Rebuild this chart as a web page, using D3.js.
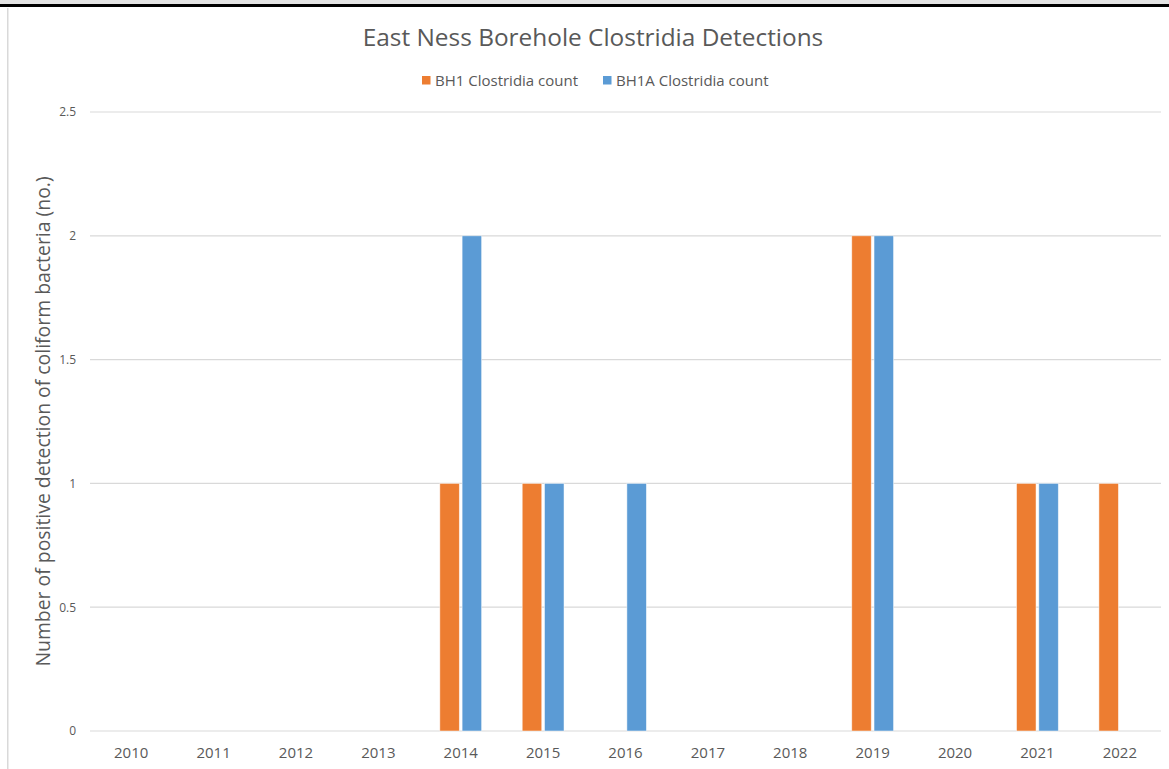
<!DOCTYPE html>
<html>
<head>
<meta charset="utf-8">
<script src="https://cdn.jsdelivr.net/npm/d3@7"></script>
<style>
  html, body { margin: 0; padding: 0; background: #fff; }
  svg { display: block; }
  text { font-family: "Open Sans", "Noto Sans", sans-serif; fill: #595959; }
</style>
</head>
<body>
<script>
// Yearly Clostridia detections at the two East Ness boreholes
const years = ["2010","2011","2012","2013","2014","2015","2016","2017","2018","2019","2020","2021","2022"];
const bh1Counts  = [0, 0, 0, 0, 1, 1, 0, 0, 0, 2, 0, 1, 1];
const bh1aCounts = [0, 0, 0, 0, 2, 1, 1, 0, 0, 2, 0, 1, 0];
const seriesNames = ["BH1 Clostridia count", "BH1A Clostridia count"];
const seriesColors = ["#ED7D31", "#5B9BD5"];
const yTicks = [0, 0.5, 1, 1.5, 2, 2.5];

const W = 1169, H = 769;
const svg = d3.select("body").append("svg").attr("width", W).attr("height", H);

// window frame: grey band, dark rule, left edge
svg.append("rect").attr("x", 0).attr("y", 0).attr("width", W).attr("height", 4).attr("fill", "#e3e3e3");
svg.append("rect").attr("x", 0).attr("y", 4).attr("width", W).attr("height", 3).attr("fill", "#000");
svg.append("rect").attr("x", 7).attr("y", 8).attr("width", 1.5).attr("height", H - 8).attr("fill", "#d9d9d9");

const plot = { left: 90, right: 1161, top: 112, bottom: 731 };

const x = d3.scaleBand().domain(years).range([plot.left, plot.right]);
const y = d3.scaleLinear().domain([0, 2.5]).range([plot.bottom, plot.top]);

// horizontal gridlines
svg.append("g").selectAll("line").data(yTicks).join("line")
  .attr("x1", plot.left).attr("x2", plot.right)
  .attr("y1", d => y(d)).attr("y2", d => y(d))
  .attr("stroke", "#d9d9d9").attr("stroke-width", 1.2);

// y axis tick labels
const yAxis = d3.axisLeft(y).tickValues(yTicks).tickSize(0).tickPadding(0)
  .tickFormat(d => d3.format("")(d));
const gy = svg.append("g").attr("transform", `translate(${plot.left - 14},0)`).call(yAxis);
gy.select(".domain").remove();
gy.selectAll("text").attr("font-size", 12).attr("fill", "#595959")
  .style("font-family", '"Open Sans", sans-serif');

// x axis labels
const xAxis = d3.axisBottom(x).tickSize(0).tickPadding(0);
const gx = svg.append("g").attr("transform", `translate(0,${plot.bottom + 16})`).call(xAxis);
gx.select(".domain").remove();
gx.selectAll("text").attr("font-size", 15).attr("fill", "#595959")
  .style("font-family", '"Open Sans", sans-serif');

// clustered bars
const barW = 18.3, barGap = 5.2;
const series = [bh1Counts, bh1aCounts];
const inner = d3.scaleBand().domain([0, 1])
  .range([-(barW + barGap / 2), barW + barGap / 2]).paddingInner(barGap / (barW * 2 + barGap)).paddingOuter(0);

series.forEach((vals, si) => {
  svg.append("g").selectAll("rect")
    .data(years.map((yr, i) => ({ yr, v: vals[i] })).filter(d => d.v > 0))
    .join("rect")
    .attr("x", d => x(d.yr) + x.bandwidth() / 2 + inner(si))
    .attr("width", inner.bandwidth())
    .attr("y", d => y(d.v))
    .attr("height", d => y(0) - y(d.v))
    .attr("fill", seriesColors[si])
    .attr("stroke", "#ffffff").attr("stroke-opacity", 0.6).attr("stroke-width", 0.8);
});

// title
svg.append("text")
  .attr("x", 593).attr("y", 46)
  .attr("text-anchor", "middle")
  .attr("font-size", 24.4)
  .text("East Ness Borehole Clostridia Detections");

// legend
const legendItems = [
  { name: seriesNames[0], color: seriesColors[0], x: 422 },
  { name: seriesNames[1], color: seriesColors[1], x: 603 }
];
const lg = svg.append("g").selectAll("g").data(legendItems).join("g")
  .attr("transform", d => `translate(${d.x},76)`);
lg.append("rect").attr("width", 8.5).attr("height", 8.5).attr("fill", d => d.color);
lg.append("text").attr("x", 13).attr("y", 9.8).attr("font-size", 15).text(d => d.name);

// y axis title
svg.append("text")
  .attr("transform", `translate(50,${(plot.top + plot.bottom) / 2 + 0}) rotate(-90)`)
  .attr("text-anchor", "middle")
  .attr("font-size", 19.4)
  .text("Number of positive detection of coliform bacteria (no.)");
</script>
</body>
</html>
